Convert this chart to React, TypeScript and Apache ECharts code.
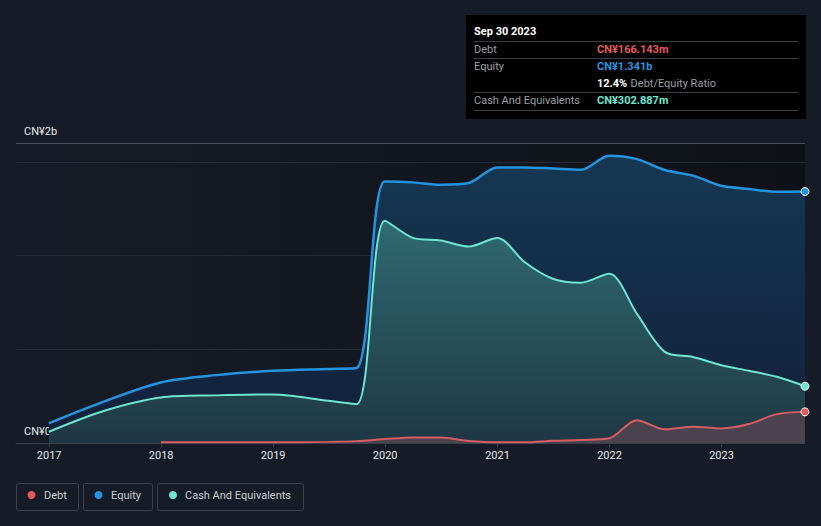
import React, { useEffect, useRef } from "react";
import * as echarts from "echarts";

const dates = [
  "2016-12-31", "2017-06-30", "2017-12-31", "2018-06-30", "2018-12-31", "2019-06-30",
  "2019-09-30", "2019-12-31", "2020-03-31", "2020-06-30", "2020-09-30", "2020-12-31",
  "2021-03-31", "2021-06-30", "2021-09-30", "2021-12-31", "2022-03-31", "2022-06-30",
  "2022-09-30", "2022-12-31", "2023-03-31", "2023-06-30", "2023-09-30",
];
// values in CN¥ billions
const equity = [
  0.105, 0.222, 0.323, 0.362, 0.385, 0.395, 0.4, 1.395, 1.39, 1.378, 1.387, 1.47,
  1.47, 1.464, 1.457, 1.532, 1.514, 1.456, 1.426, 1.372, 1.355, 1.34, 1.341,
];
const cash = [
  0.06, 0.172, 0.243, 0.254, 0.259, 0.225, 0.207, 1.186, 1.094, 1.08, 1.048, 1.094,
  0.964, 0.876, 0.855, 0.903, 0.69, 0.486, 0.459, 0.415, 0.385, 0.353, 0.303,
];
const debt = [
  null, null, 0.004, 0.004, 0.004, 0.006, 0.01, 0.021, 0.03, 0.029, 0.011, 0.004,
  0.004, 0.012, 0.016, 0.025, 0.122, 0.073, 0.087, 0.078, 0.101, 0.154, 0.166,
];
const yTickLabels = ["CN¥0", "CN¥2b"];
const legendNames = ["Debt", "Equity", "Cash And Equivalents"];

const RED = "#e45a5a";
const BLUE = "#2394df";
const TEAL = "#6ce5d1";
const FONT = "Roboto, 'Noto Sans', sans-serif";

function toData(vals: (number | null)[], color: string) {
  return vals.map((v, i) => {
    if (i === vals.length - 1) {
      return {
        value: [dates[i], v],
        symbol: "circle",
        symbolSize: 8,
        itemStyle: { color, borderColor: "#ffffff", borderWidth: 1 },
      };
    }
    return { value: [dates[i], v] };
  });
}

export default function App() {
  const ref = useRef<HTMLDivElement>(null);
  useEffect(() => {
    if (!ref.current) return;
    const chart = echarts.init(ref.current, null, { renderer: "svg" });
    const legendBoxes = [
      { x: 16, w: 62, dot: 31.5, tx: 44, c: RED },
      { x: 83, w: 69, dot: 98.5, tx: 111, c: BLUE },
      { x: 157, w: 146, dot: 173, tx: 185, c: TEAL },
    ];
    const graphics: any[] = [];
    graphics.push({
      type: "rect",
      z: -10,
      shape: { x: 16, y: 143, width: 789, height: 300 },
      style: {
        fill: new echarts.graphic.LinearGradient(0, 0, 1, 0, [
          { offset: 0, color: "#161c27" },
          { offset: 1, color: "#0e1117" },
        ]),
      },
    });
    legendBoxes.forEach((b, i) => {
      graphics.push({
        type: "rect",
        shape: { x: b.x + 0.5, y: 483.5, width: b.w, height: 27, r: 2 },
        style: { fill: "transparent", stroke: "#3a404a", lineWidth: 1 },
      });
      graphics.push({
        type: "circle",
        shape: { cx: b.dot, cy: 495, r: 4 },
        style: { fill: b.c },
      });
      graphics.push({
        type: "text",
        x: b.tx,
        y: 495,
        style: {
          text: legendNames[i],
          fill: "#c8ccd2",
          font: `11px ${FONT}`,
          textVerticalAlign: "middle",
        },
      });
    });
    graphics.push({
      type: "text", x: 24, y: 131,
      style: { text: yTickLabels[1], fill: "#e6e8eb", font: `11px ${FONT}`, textVerticalAlign: "middle" },
    });
    graphics.push({
      type: "text", x: 24, y: 431,
      style: { text: yTickLabels[0], fill: "#e6e8eb", font: `11px ${FONT}`, textVerticalAlign: "middle" },
    });
    const tx = 474, vx = 597;
    graphics.push({
      type: "rect",
      shape: { x: 466, y: 15, width: 340, height: 104 },
      style: { fill: "#000000" },
    });
    graphics.push({
      type: "text", x: tx, y: 31,
      style: { text: "Sep 30 2023", fill: "#ffffff", font: `bold 11px ${FONT}`, textVerticalAlign: "middle" },
    });
    [41.5, 58.5, 92.5, 110.5].forEach((y) => {
      graphics.push({
        type: "line",
        shape: { x1: tx, y1: y, x2: 798, y2: y },
        style: { stroke: "#3a3d42", lineWidth: 1 },
      });
    });
    const rows = [
      { y: 49, label: "Debt", val: "CN¥166.143m", c: RED },
      { y: 66, label: "Equity", val: "CN¥1.341b", c: BLUE },
      { y: 100, label: "Cash And Equivalents", val: "CN¥302.887m", c: TEAL },
    ];
    rows.forEach((r) => {
      graphics.push({
        type: "text", x: tx, y: r.y,
        style: { text: r.label, fill: "#9a9ea5", font: `11px ${FONT}`, textVerticalAlign: "middle" },
      });
      graphics.push({
        type: "text", x: vx, y: r.y,
        style: { text: r.val, fill: r.c, font: `bold 11px ${FONT}`, textVerticalAlign: "middle" },
      });
    });
    graphics.push({
      type: "text", x: vx, y: 83,
      style: {
        text: "{a|12.4%} {b|Debt/Equity Ratio}",
        textVerticalAlign: "middle",
        rich: {
          a: { fill: "#ffffff", font: `bold 11px ${FONT}` },
          b: { fill: "#9a9ea5", font: `11px ${FONT}` },
        },
      },
    });

    const year = 365 * 24 * 3600 * 1000;
    chart.setOption({
      animation: false,
      backgroundColor: "#161c27",
      grid: { left: 16, right: 16, top: 143, bottom: 83, containLabel: false },
      xAxis: {
        type: "time",
        min: "2016-09-15",
        max: "2023-09-30",
        minInterval: year,
        maxInterval: year * 1.01,
        axisLine: { show: true, lineStyle: { color: "#3a404a", width: 1 } },
        axisTick: { show: true, length: 4, lineStyle: { color: "#3a404a" } },
        axisLabel: {
          color: "#e6e8eb",
          fontSize: 11,
          fontFamily: FONT,
          margin: 7,
          formatter: "{yyyy}",
          hideOverlap: false,
        },
        splitLine: { show: false },
      },
      yAxis: {
        type: "value",
        min: 0,
        max: 1.6,
        interval: 0.5,
        axisLabel: { show: false },
        axisLine: { show: false },
        axisTick: { show: false },
        splitLine: {
          show: true,
          lineStyle: { color: ["#3a404a", "#232a35", "#232a35", "#232a35", "#4a4f57"], width: 1 },
        },
      },
      series: [
        {
          name: "Equity",
          type: "line",
          data: toData(equity, BLUE),
          smooth: 0.3,
          symbol: "none",
          showSymbol: true,
          lineStyle: { color: BLUE, width: 2.5 },
          itemStyle: { color: BLUE },
          areaStyle: {
            color: new echarts.graphic.LinearGradient(0, 0, 0, 1, [
              { offset: 0, color: "#153752" },
              { offset: 1, color: "#11203a" },
            ]),
            opacity: 1,
          },
          z: 1,
        },
        {
          name: "Cash And Equivalents",
          type: "line",
          data: toData(cash, TEAL),
          smooth: 0.3,
          symbol: "none",
          showSymbol: true,
          lineStyle: { color: TEAL, width: 2 },
          itemStyle: { color: TEAL },
          areaStyle: {
            color: new echarts.graphic.LinearGradient(0, 0, 0, 1, [
              { offset: 0, color: "#2f6a72" },
              { offset: 1, color: "#1e3744" },
            ]),
            opacity: 1,
          },
          z: 2,
        },
        {
          name: "Debt",
          type: "line",
          data: toData(debt, RED),
          smooth: 0.3,
          symbol: "none",
          showSymbol: true,
          connectNulls: false,
          lineStyle: { color: "#d95c60", width: 2 },
          itemStyle: { color: RED },
          areaStyle: { color: "#4a434f", opacity: 1 },
          z: 3,
        },
      ],
      graphic: graphics,
    });
    return () => chart.dispose();
  }, []);
  return <div ref={ref} style={{ width: 821, height: 526, position: "absolute", left: 0, top: 0 }} />;
}
